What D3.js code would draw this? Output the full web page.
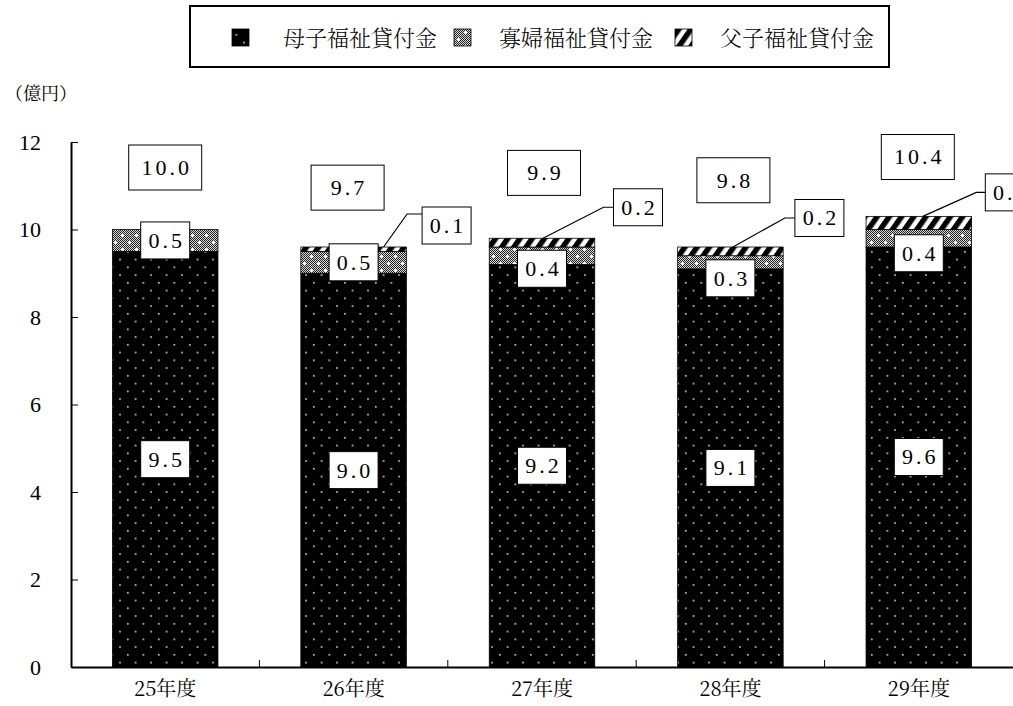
<!DOCTYPE html>
<html>
<head>
<meta charset="utf-8">
<script src="https://cdn.jsdelivr.net/npm/d3@7"></script>
<style>
  body { margin: 0; background: #fff; }
  svg { display: block; }
  .num { font-family: "Liberation Serif", "DejaVu Serif", "Times New Roman", serif; }
  .jp { font-family: "Noto Serif CJK JP", "Noto Sans CJK JP", "Noto Sans", sans-serif; }
</style>
</head>
<body>
<svg id="chart" width="1013" height="706"></svg>
<script>
// ---- data ----
const categories = ["25年度", "26年度", "27年度", "28年度", "29年度"];
const seriesNames = ["母子福祉貸付金", "寡婦福祉貸付金", "父子福祉貸付金"];
const boshi = [9.5, 9.0, 9.2, 9.1, 9.6];   // 母子福祉貸付金
const kafu  = [0.5, 0.5, 0.4, 0.3, 0.4];   // 寡婦福祉貸付金
const fushi = [0.0, 0.1, 0.2, 0.2, 0.3];   // 父子福祉貸付金
const totals = [10.0, 9.7, 9.9, 9.8, 10.4];
const yTicks = [0, 2, 4, 6, 8, 10, 12];
const yUnit = "（億円）";

// ---- label layout (pixel offsets) ----
const totalBox = { w: 73, h: 45, dx: [0, -6, 2, 3, -1], dy: [-62, -55, -61, -58, -55] };
const kafuBoxDy = [0, 0, 13, 16, 15];
const fushiCallout = {
  dx: [0, 93, 96, 89, 91], dy: [0, -21.5, -31, -29, -24],
  anchorDx: [0, 30, 1, 2.5, 4], elbow: [0, 15, 10, 10, 9], attachDy: [0, -11.5, 0, 0, 0]
};

const svg = d3.select("#chart");

const x = d3.scaleBand().domain(categories).range([71, 1013]).paddingInner(0.44).paddingOuter(0.22);
const y = d3.scaleLinear().domain([0, 12]).range([667, 142]);

// ---- fill patterns ----
const defs = svg.append("defs");

const pDot = defs.append("pattern").attr("id", "pBoshi")
  .attr("patternUnits", "userSpaceOnUse").attr("width", 15.5).attr("height", 15.5);
pDot.append("rect").attr("width", 15.5).attr("height", 15.5).attr("fill", "#000");
pDot.append("rect").attr("x", 3).attr("y", 3).attr("width", 1.6).attr("height", 1.6).attr("fill", "#ddd");
pDot.append("rect").attr("x", 10.75).attr("y", 10.75).attr("width", 1.6).attr("height", 1.6).attr("fill", "#ddd");

const pChk = defs.append("pattern").attr("id", "pChecker")
  .attr("patternUnits", "userSpaceOnUse").attr("width", 2).attr("height", 2);
pChk.append("rect").attr("width", 2).attr("height", 2).attr("fill", "#d8d8d8");
pChk.append("rect").attr("width", 1).attr("height", 1).attr("fill", "#222");
pChk.append("rect").attr("x", 1).attr("y", 1).attr("width", 1).attr("height", 1).attr("fill", "#222");

const pKafu = defs.append("pattern").attr("id", "pKafu")
  .attr("patternUnits", "userSpaceOnUse").attr("width", 14).attr("height", 14);
pKafu.append("rect").attr("width", 14).attr("height", 14).attr("fill", "url(#pChecker)");
[[3, 4], [10, 11]].forEach(([cx, cy]) => {
  pKafu.append("rect").attr("x", cx - 1).attr("y", cy).attr("width", 3).attr("height", 1).attr("fill", "#fff");
  pKafu.append("rect").attr("x", cx).attr("y", cy - 1).attr("width", 1).attr("height", 3).attr("fill", "#fff");
});

const pHatch = defs.append("pattern").attr("id", "pFushi")
  .attr("patternUnits", "userSpaceOnUse").attr("width", 10).attr("height", 10)
  .attr("patternTransform", "rotate(35)");
pHatch.append("rect").attr("width", 10).attr("height", 10).attr("fill", "#fff");
pHatch.append("rect").attr("width", 5.5).attr("height", 10).attr("fill", "#000");

const fills = ["url(#pBoshi)", "url(#pKafu)", "url(#pFushi)"];

// ---- stacked bars ----
const rows = categories.map((c, i) => ({ cat: c, boshi: boshi[i], kafu: kafu[i], fushi: fushi[i] }));
const stack = d3.stack().keys(["boshi", "kafu", "fushi"])(rows);

const gBars = svg.append("g");
stack.forEach((layer, k) => {
  gBars.selectAll(null).data(layer.filter(d => d[1] - d[0] > 0)).join("rect")
    .attr("x", d => x(d.data.cat))
    .attr("y", d => y(d[1]))
    .attr("width", x.bandwidth())
    .attr("height", d => y(d[0]) - y(d[1]))
    .attr("fill", fills[k])
    .attr("stroke", "#000").attr("stroke-width", 0.8);
});

// ---- axes ----
const yAxis = d3.axisLeft(y).tickValues(yTicks).tickSizeInner(-7).tickSizeOuter(0).tickPadding(30)
  .tickFormat(d3.format("d"));
const gy = svg.append("g").attr("transform", "translate(71,0)").call(yAxis);
gy.attr("font-family", null).attr("font-size", null);
gy.select(".domain").attr("stroke-width", 2);
gy.selectAll(".tick line").attr("stroke-width", 1);
gy.selectAll("text").attr("class", "num").style("font-size", "22px").attr("fill", "#000");

const xAxis = d3.axisBottom(x).tickSize(0).tickPadding(15);
const gx = svg.append("g").attr("transform", "translate(0,667)").call(xAxis);
gx.attr("font-family", null).attr("font-size", null);
gx.select(".domain").attr("stroke-width", 2);
gx.selectAll("text").attr("class", "jp").style("font-size", "20px").attr("fill", "#000");
// boundary ticks between categories, pointing up
const bounds = categories.slice(0, -1).map(c => x(c) + x.bandwidth() + x.step() * x.paddingInner() / 2);
svg.append("g").selectAll("line").data(bounds).join("line")
  .attr("x1", d => d).attr("x2", d => d).attr("y1", 667).attr("y2", 660)
  .attr("stroke", "#000").attr("stroke-width", 1);

// unit label
svg.append("text").attr("class", "jp").attr("x", 5).attr("y", 100)
  .style("font-size", "18px").text(yUnit);

// ---- value labels ----
const fmt = d3.format(".1f");
const gLab = svg.append("g");
function box(cx, cy, w, h, val) {
  gLab.append("rect").attr("x", cx - w / 2).attr("y", cy - h / 2).attr("width", w).attr("height", h)
    .attr("fill", "#fff").attr("stroke", "#000").attr("stroke-width", 1);
  gLab.append("text").attr("class", "num").attr("x", cx + 1.5).attr("y", cy).attr("dy", "0.34em")
    .attr("text-anchor", "middle").style("font-size", "22px")
    .style("letter-spacing", "3px").text(fmt(val));
}

categories.forEach((c, i) => {
  const cx = x(c) + x.bandwidth() / 2;
  // 母子 (segment middle)
  box(cx, y(boshi[i] / 2), 49, 37, boshi[i]);
  // 寡婦
  box(cx, y(boshi[i] + kafu[i] / 2) + kafuBoxDy[i], 49, 37, kafu[i]);
  // 父子 with leader line
  if (fushi[i] > 0) {
    const top = y(boshi[i] + kafu[i] + fushi[i]);
    const bcx = cx + fushiCallout.dx[i], bcy = top + fushiCallout.dy[i];
    const left = bcx - 24.5, ay = bcy + fushiCallout.attachDy[i];
    gLab.append("polyline")
      .attr("points", [[cx + fushiCallout.anchorDx[i], top], [left - fushiCallout.elbow[i], ay], [left, ay]].join(" "))
      .attr("fill", "none").attr("stroke", "#000").attr("stroke-width", 1.2);
    box(bcx, bcy, 49, 37, fushi[i]);
  }
  // total
  box(cx + totalBox.dx[i], y(totals[i]) + totalBox.dy[i], totalBox.w, totalBox.h, totals[i]);
});

// ---- legend ----
const gLeg = svg.append("g");
gLeg.append("rect").attr("x", 190).attr("y", 6).attr("width", 699).attr("height", 61)
  .attr("fill", "#fff").attr("stroke", "#000").attr("stroke-width", 2);
const legX = [232, 454, 675];
const legTextX = [283, 499, 720];
seriesNames.forEach((name, k) => {
  gLeg.append("rect").attr("x", legX[k]).attr("y", 29).attr("width", 17).attr("height", 17)
    .attr("fill", fills[k]).attr("stroke", "#000").attr("stroke-width", 0.8);
  gLeg.append("text").attr("class", "jp").attr("x", legTextX[k]).attr("y", 46)
    .style("font-size", "22px").style("font-weight", 300).text(name);
});
</script>
</body>
</html>
